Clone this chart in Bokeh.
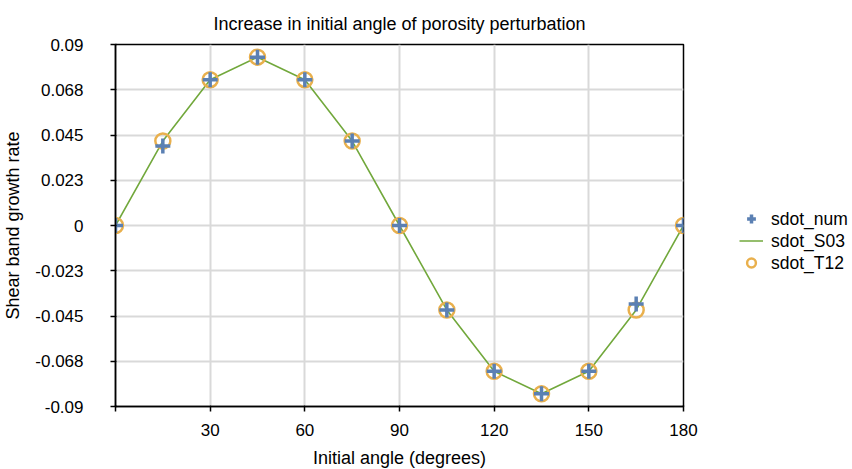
from bokeh.plotting import figure
from bokeh.models import FixedTicker, Legend, LegendItem, ColumnDataSource
from bokeh.embed import file_html
from bokeh.resources import INLINE

angles = [0, 15, 30, 45, 60, 75, 90, 105, 120, 135, 150, 165, 180]
sdot_num = [0, 0.0395, 0.0725, 0.0837, 0.0725, 0.042, 0, -0.042, -0.0725, -0.0837, -0.0725, -0.039, 0]
sdot_S03 = [0, 0.042, 0.0725, 0.0837, 0.0725, 0.042, 0, -0.042, -0.0725, -0.0837, -0.0725, -0.042, 0]
sdot_T12 = [0, 0.042, 0.0725, 0.0837, 0.0725, 0.042, 0, -0.042, -0.0725, -0.0837, -0.0725, -0.042, 0]

x_ticks = [0, 30, 60, 90, 120, 150, 180]
x_tick_labels = ["", "30", "60", "90", "120", "150", "180"]
y_ticks = [-0.09, -0.0675, -0.045, -0.0225, 0, 0.0225, 0.045, 0.0675, 0.09]
y_tick_labels = ["-0.09", "-0.068", "-0.045", "-0.023", "0", "0.023", "0.045", "0.068", "0.09"]

FONT = "Liberation Sans"

src = ColumnDataSource(dict(x=angles, num=sdot_num, s03=sdot_S03, t12=sdot_T12))

p = figure(frame_width=568, frame_height=362, output_backend="svg", toolbar_location=None,
           x_range=(0, 180), y_range=(-0.09, 0.09),
           min_border_left=115, min_border_right=169, min_border_top=44, min_border_bottom=63,
           title="Increase in initial angle of porosity perturbation")

p.title.align = "center"
p.title.text_font = FONT
p.title.text_font_size = "18px"
p.title.text_font_style = "normal"
p.title.text_color = "#000000"
p.title.standoff = 22

p.xaxis.ticker = FixedTicker(ticks=x_ticks)
p.xaxis.major_label_overrides = {t: l for t, l in zip(x_ticks, x_tick_labels)}
p.yaxis.ticker = FixedTicker(ticks=y_ticks)
p.yaxis.major_label_overrides = {t: l for t, l in zip(y_ticks, y_tick_labels)}
p.xaxis.axis_label = "Initial angle (degrees)"
p.yaxis.axis_label = "Shear band growth rate"

for ax in (p.xaxis, p.yaxis):
    ax.axis_line_color = "black"
    ax.axis_line_width = 1.5
    ax.major_tick_line_color = "black"
    ax.major_tick_line_width = 1.5
    ax.major_tick_out = 5
    ax.major_tick_in = 1
    ax.minor_tick_line_color = None
    ax.major_label_text_font = FONT
    ax.major_label_text_font_size = "17px"
    ax.major_label_text_color = "#000000"
    ax.axis_label_text_font = FONT
    ax.axis_label_text_font_size = "18px"
    ax.axis_label_text_font_style = "normal"
    ax.axis_label_text_color = "#000000"
p.xaxis.major_label_standoff = 12
p.xaxis.axis_label_standoff = 9
p.yaxis.major_label_standoff = 27
p.yaxis.axis_label_standoff = 9

p.outline_line_color = "black"
p.outline_line_width = 1.5
p.xgrid.grid_line_color = "#d9d9d9"
p.ygrid.grid_line_color = "#d9d9d9"
p.xgrid.grid_line_width = 2
p.ygrid.grid_line_width = 2

l_line = p.line("x", "s03", source=src, line_color="#72a83c", line_width=1.6)
r_t12 = p.scatter("x", "t12", source=src, marker="circle", size=15, fill_color=None,
                  line_color="#e9b04d", line_width=2.5)
r_num = p.scatter("x", "num", source=src, marker="cross", size=15, line_color="#5b80b3",
                  line_width=3.5)

legend = Legend(items=[LegendItem(label="sdot_num", renderers=[r_num]),
                       LegendItem(label="sdot_S03", renderers=[l_line]),
                       LegendItem(label="sdot_T12", renderers=[r_t12])],
                location="left", title=" ")
legend.title_text_font_size = "10px"
legend.title_standoff = 20
legend.border_line_color = None
legend.background_fill_alpha = 0
legend.label_text_font = FONT
legend.label_text_font_size = "17.5px"
legend.label_text_color = "#000000"
legend.glyph_width = 24
legend.glyph_height = 22
legend.label_height = 20
legend.spacing = 0
legend.padding = 0
legend.margin = 56
legend.label_standoff = 8
p.add_layout(legend, "right")

open("out.html", "w").write(file_html(p, INLINE))
